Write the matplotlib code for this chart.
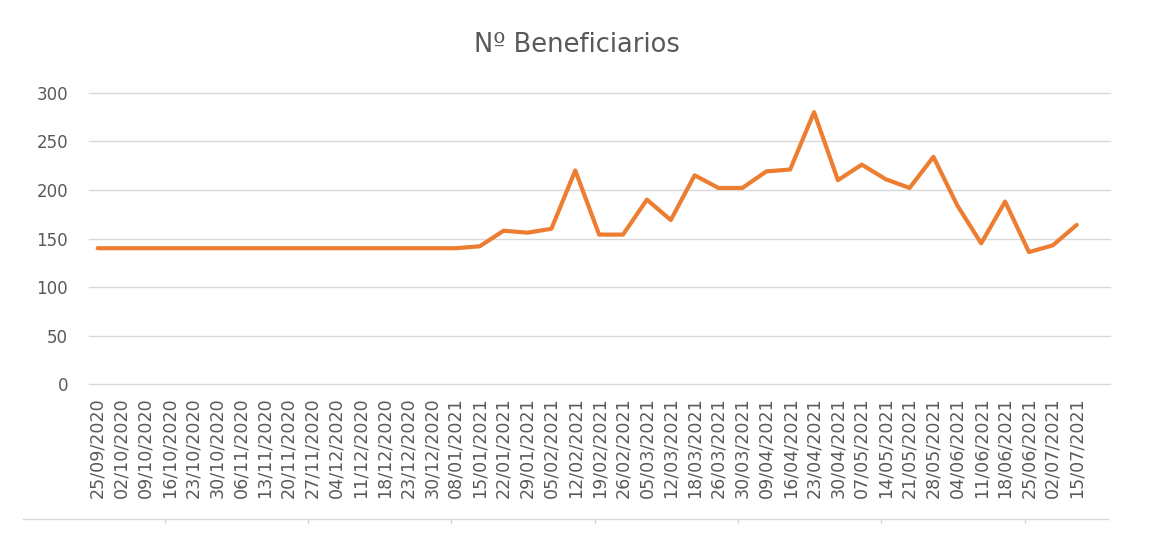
import matplotlib
matplotlib.use("Agg")
import matplotlib.pyplot as plt
from matplotlib.lines import Line2D
import numpy as np

dates = ["25/09/2020", "02/10/2020", "09/10/2020", "16/10/2020", "23/10/2020",
         "30/10/2020", "06/11/2020", "13/11/2020", "20/11/2020", "27/11/2020",
         "04/12/2020", "11/12/2020", "18/12/2020", "23/12/2020", "30/12/2020",
         "08/01/2021", "15/01/2021", "22/01/2021", "29/01/2021", "05/02/2021",
         "12/02/2021", "19/02/2021", "26/02/2021", "05/03/2021", "12/03/2021",
         "18/03/2021", "26/03/2021", "30/03/2021", "09/04/2021", "16/04/2021",
         "23/04/2021", "30/04/2021", "07/05/2021", "14/05/2021", "21/05/2021",
         "28/05/2021", "04/06/2021", "11/06/2021", "18/06/2021", "25/06/2021",
         "02/07/2021", "15/07/2021"]
beneficiarios = [140, 140, 140, 140, 140, 140, 140, 140, 140, 140,
                 140, 140, 140, 140, 140, 140, 142, 158, 156, 160,
                 220, 154, 154, 190, 169, 215, 202, 202, 219, 221,
                 280, 210, 226, 211, 202, 234, 184, 145, 188, 136,
                 143, 164]
y_ticks = [0, 50, 100, 150, 200, 250, 300]
title = "Nº Beneficiarios"

plt.rcParams['font.family'] = ['DejaVu Sans']
W, H = 1150, 560
fig = plt.figure(figsize=(W / 100, H / 100), dpi=100)
fig.patch.set_facecolor("white")

left, right, top, bottom = 89, 1110, 92.7, 384.3
ax = fig.add_axes([left / W, 1 - bottom / H, (right - left) / W, (bottom - top) / H])

x = np.arange(len(dates))
ax.plot(x, beneficiarios, color="#ED7D31", lw=3.0, solid_capstyle="round",
        solid_joinstyle="round", zorder=3)

ax.set_ylim(0, 300)
ax.set_xlim(-0.364, len(dates) - 1 + 1.394)
ax.set_yticks(y_ticks)
ax.set_xticks(x)
ax.set_xticklabels(dates, rotation=90, va="top", ha="center")
ax.yaxis.grid(True, color="#D9D9D9", lw=1.0)
for gl in ax.yaxis.get_gridlines():
    gl.set_clip_on(False)
ax.set_axisbelow(True)
for s in ["top", "right", "left", "bottom"]:
    ax.spines[s].set_visible(False)
ax.tick_params(axis="both", length=0, colors="#595959", labelsize=12)
ax.tick_params(axis="x", labelsize=12.6)
ax.tick_params(axis="y", pad=15)
ax.tick_params(axis="x", pad=9)

fig.text(577 / W, 1 - 45 / H, title, ha="center", va="center",
         fontsize=18.5, color="#595959")

# decorative bottom rule with ticks
yb = 1 - 519.3 / H
fig.add_artist(Line2D([23 / W, 1108 / W], [yb, yb], transform=fig.transFigure,
                      color="#D9D9D9", lw=1.0))
for k in range(7):
    xp = (164.7 + 143.3 * k) / W
    fig.add_artist(Line2D([xp, xp], [yb, yb - 3.5 / H], transform=fig.transFigure,
                          color="#D9D9D9", lw=1.0))

fig.savefig("out.png", dpi=100, facecolor="white")
